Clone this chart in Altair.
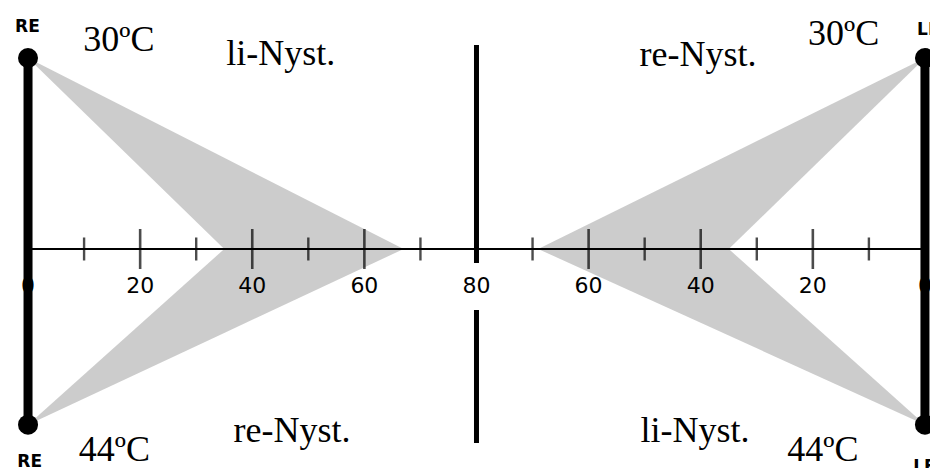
import altair as alt
import pandas as pd

# Caloric test butterfly schema: right ear (RE) reads 0→80 from the left edge,
# left ear (LE) reads 80→0 towards the right edge; 30ºC above, 44ºC below.
SPAN = 80

tick_values = [0, 10, 20, 30, 40, 50, 60, 70, 80]
major_ticks = [20, 40, 60]
label_values = [0, 20, 40, 60, 80]

# response fans: ear, stimulus temperature, start and end of the range on the scale
fan_ear = ["RE", "RE", "LE", "LE"]
fan_temp = ["30ºC", "44ºC", "30ºC", "44ºC"]
fan_low = [35, 35, 35, 35]
fan_high = [67, 67, 69, 69]

# vertical level of each stimulus (scale line at 0)
temp_level = {"30ºC": 1.0, "44ºC": -0.92}

# centre divider pieces (level from, level to)
divider_from = [1.068, -0.319]
divider_to = [-0.073, -1.016]

# annotations
serif_text = ["30ºC", "li-Nyst.", "re-Nyst.", "30ºC", "44ºC", "re-Nyst.", "li-Nyst.", "44ºC"]
serif_pos = [16.2, 45.1, 119.5, 145.5, 15.4, 47.1, 119.0, 141.8]
serif_level = [1.037, 0.963, 0.958, 1.068, -1.112, -1.01, -1.01, -1.108]

ear_text = ["RE", "RE", "LE", "LE"]
ear_pos = [-0.1, 0.3, 158.6, 157.9]
ear_level = [1.136, -1.14, 1.12, -1.17]
ear_align = ["center", "center", "left", "left"]

X_DOMAIN = [-5.0, 160.9]
Y_DOMAIN = [-1.147, 1.304]


def strip_pos(ear, v):
    return v if ear == "RE" else 2 * SPAN - v


def X(field="pos"):
    return alt.X(f"{field}:Q", scale=alt.Scale(domain=X_DOMAIN, nice=False, zero=False), axis=None)


def Y(field="level"):
    return alt.Y(f"{field}:Q", scale=alt.Scale(domain=Y_DOMAIN, nice=False, zero=False), axis=None)


# fan triangles: apex at the ear, base on the scale line between low and high
fan_rows = []
for i, (ear, temp, lo, hi) in enumerate(zip(fan_ear, fan_temp, fan_low, fan_high)):
    L = temp_level[temp]
    fan_rows.append({"fan": i, "pos": strip_pos(ear, 0), "level": L, "level2": L})
    fan_rows.append({"fan": i, "pos": strip_pos(ear, lo), "level": L * (1 - lo / hi), "level2": 0.0})
    fan_rows.append({"fan": i, "pos": strip_pos(ear, hi), "level": 0.0, "level2": 0.0})
fans_df = pd.DataFrame(fan_rows)

fans = alt.Chart(fans_df).mark_area(color="#b8b8b8", opacity=0.72, interpolate="linear").encode(
    x=X(), y=Y(), y2="level2:Q", detail="fan:N"
)

# scale line
line_df = pd.DataFrame({"pos": [strip_pos("RE", 0)], "pos2": [strip_pos("LE", 0)], "level": [0.0]})
scale_line = alt.Chart(line_df).mark_rule(color="black", strokeWidth=2.2).encode(
    x=X(), x2="pos2:Q", y=Y()
)

# ticks on both halves
tick_rows = []
for ear in ["RE", "LE"]:
    for v in tick_values:
        if v in (0, SPAN):
            continue
        tick_rows.append({"pos": strip_pos(ear, v), "level": 0.0, "major": v in major_ticks})
ticks_df = pd.DataFrame(tick_rows)

minor = alt.Chart(ticks_df[~ticks_df["major"]]).mark_tick(
    orient="vertical", size=23, thickness=2.4, color="black"
).encode(x=X(), y=Y())
major = alt.Chart(ticks_df[ticks_df["major"]]).mark_tick(
    orient="vertical", size=40, thickness=2.6, color="black"
).encode(x=X(), y=Y())

# scale labels
lab_rows = []
for ear in ["RE", "LE"]:
    for v in label_values:
        if ear == "LE" and v == SPAN:
            continue
        lab_rows.append({"pos": strip_pos(ear, v), "level": 0.0, "label": str(v)})
labels_df = pd.DataFrame(lab_rows)
labels = alt.Chart(labels_df).mark_text(
    font="DejaVu Sans", fontSize=22, baseline="middle", align="center", dy=37, color="black"
).encode(x=X(), y=Y(), text="label:N")

# centre divider
div_df = pd.DataFrame({"pos": [SPAN, SPAN], "level": divider_from, "level2": divider_to})
divider = alt.Chart(div_df).mark_rule(color="black", strokeWidth=5).encode(
    x=X(), y=Y(), y2="level2:Q"
)

# ear bars with end dots
bar_df = pd.DataFrame({
    "pos": [strip_pos("RE", 0), strip_pos("LE", 0)],
    "level": [temp_level["30ºC"]] * 2,
    "level2": [temp_level["44ºC"]] * 2,
})
bars = alt.Chart(bar_df).mark_rule(color="black", strokeWidth=9).encode(
    x=X(), y=Y(), y2="level2:Q"
)
dot_df = pd.DataFrame({
    "pos": [strip_pos(e, 0) for e in ["RE", "RE", "LE", "LE"]],
    "level": [temp_level[t] for t in ["30ºC", "44ºC", "30ºC", "44ºC"]],
})
dots = alt.Chart(dot_df).mark_circle(color="black", opacity=1, size=400).encode(x=X(), y=Y())

# annotations
serif_df = pd.DataFrame({"pos": serif_pos, "level": serif_level, "text": serif_text})
serif = alt.Chart(serif_df).mark_text(
    font="Liberation Serif", fontSize=36, baseline="alphabetic", align="center", color="black"
).encode(x=X(), y=Y(), text="text:N")

ear_df = pd.DataFrame({"pos": ear_pos, "level": ear_level, "text": ear_text, "align": ear_align})
ear_labels = alt.layer(*[
    alt.Chart(ear_df[ear_df["align"] == a]).mark_text(
        font="DejaVu Sans", fontSize=17, fontWeight="bold", baseline="alphabetic", align=a, color="black"
    ).encode(x=X(), y=Y(), text="text:N")
    for a in ["center", "left"]
])

chart = alt.layer(
    fans, scale_line, minor, major, labels, divider, bars, dots, serif, ear_labels
).properties(
    width=930, height=468, padding=0, background="white",
    autosize=alt.AutoSizeParams(type="none"),
).configure_view(stroke=None)

chart.save("out.html", embed_options={"renderer": "svg", "actions": False})
